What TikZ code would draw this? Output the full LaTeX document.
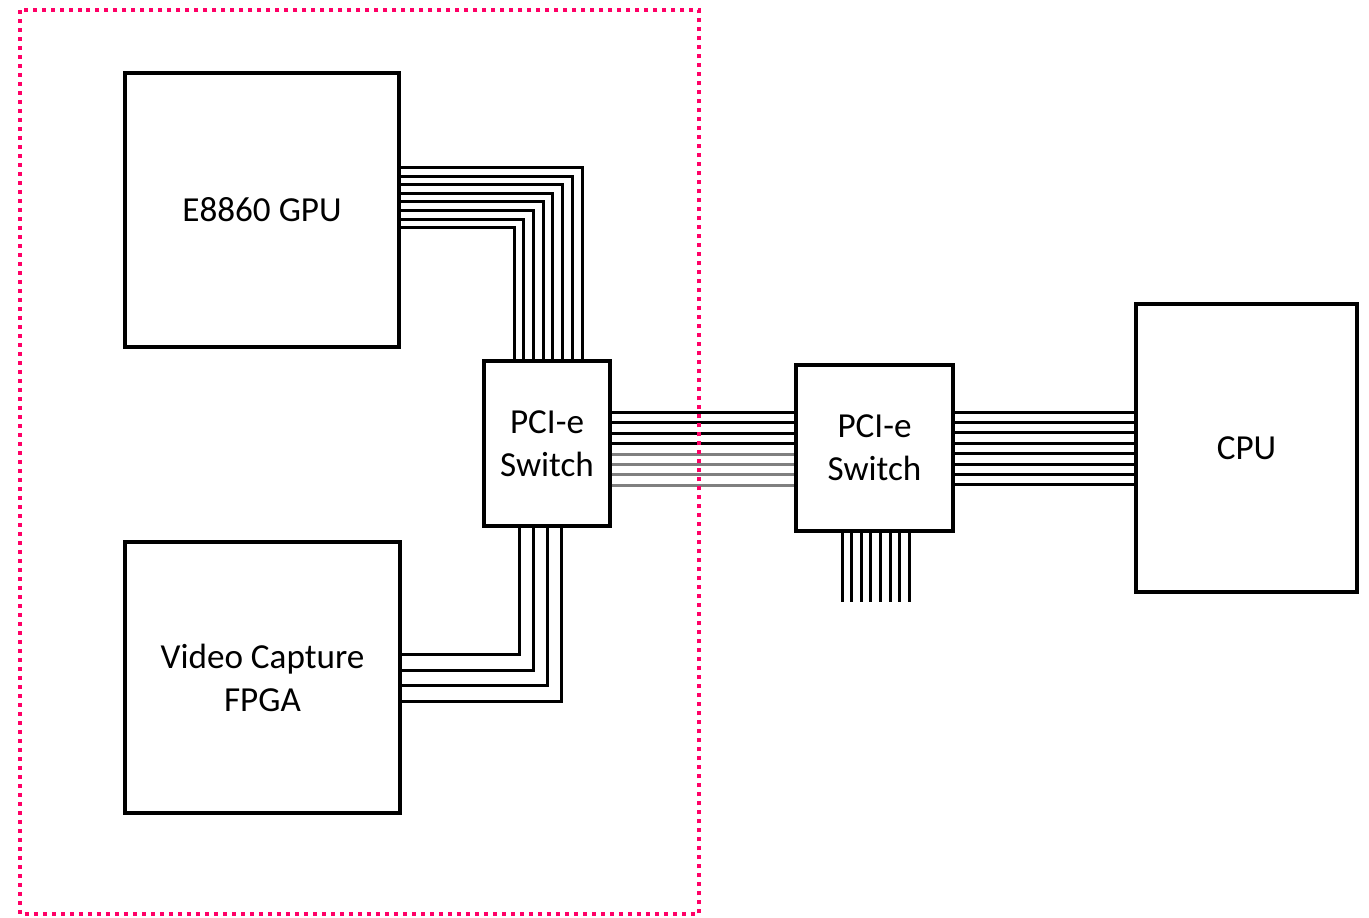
\documentclass[tikz,border=0pt]{standalone}
\usepackage{fontspec}
\setmainfont{Carlito}
\usetikzlibrary{calc}

\definecolor{framepink}{RGB}{255,0,102}

\begin{document}
\begin{tikzpicture}[
      x=0.02cm, y=-0.02cm,
      box/.style={draw=black, line width=0.065cm, inner sep=0pt,
        align=center, font=\fontsize{20}{24.4}\selectfont},
      lane/.style={line width=0.06cm, draw=black},
      greylane/.style={lane, draw=black!50},
      frame/.style={draw=framepink, line width=0.08cm,
        dash pattern=on 0.08cm off 0.1cm}
    ]
    \useasboundingbox (0,0) rectangle (1369,917);

    \node[box, minimum width=5.48cm, minimum height=5.48cm] (gpu)
      at (262,210) {E8860 GPU};
    \node[box, minimum width=5.5cm, minimum height=5.42cm] (fpga)
      at (262.5,677.5) {Video Capture\\FPGA};
    \node[box, minimum width=2.52cm, minimum height=3.3cm] (sw1)
      at (547,443.5) {PCI-e\\Switch};
    \node[box, minimum width=3.14cm, minimum height=3.32cm] (sw2)
      at (874.5,448) {PCI-e\\Switch};
    \node[box, minimum width=4.42cm, minimum height=5.76cm] (cpu)
      at (1246.5,448) {CPU};

    % GPU to first switch, eight lanes
    \foreach \i in {0,...,7}
      \draw[lane] ($(gpu.north east)+(0,96+8.6*\i)$)
        -| ($(sw1.north)+(35-9.7*\i,0)$);

    % FPGA to first switch, four lanes
    \foreach \i in {0,...,3}
      \draw[lane] ($(fpga.north east)+(0,114+15.7*\i)$)
        -| ($(sw1.south)+(-28+14.3*\i,0)$);

    % between the switches
    \foreach \i/\st in {0/lane,1/lane,2/lane,3/lane,
                        4/greylane,5/greylane,6/greylane,7/greylane} {
      \coordinate (m) at ($(sw1.east)+(0,-31+10.4*\i)$);
      \draw[\st] (m) -- (m -| sw2.west);
    }

    % second switch to CPU
    \foreach \i in {0,...,7} {
      \coordinate (c) at ($(sw2.east)+(0,-36+10.4*\i)$);
      \draw[lane] (c) -- (c -| cpu.west);
    }

    % open lanes below the second switch
    \foreach \i in {0,...,7}
      \draw[lane] ($(sw2.south)+(-32.5+9.6*\i,0)$) -- ++(0,69);

    \draw[frame] (20,10) rectangle (699,914);
  \end{tikzpicture}
\end{document}
